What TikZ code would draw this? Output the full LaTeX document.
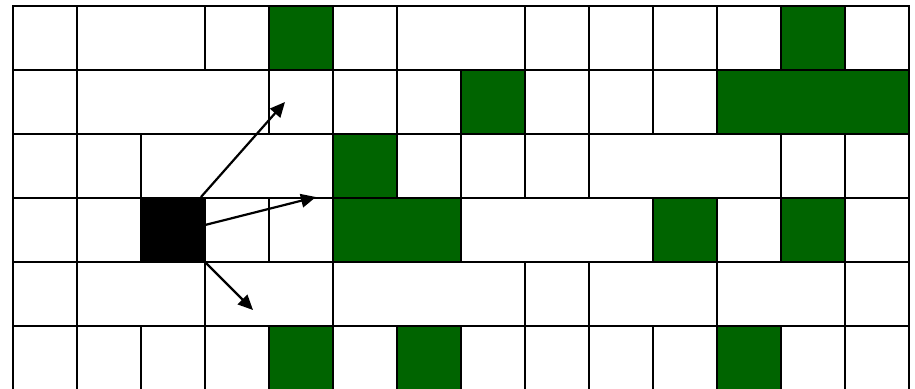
\documentclass[tikz,border=0pt]{standalone}
\usetikzlibrary{arrows.meta}
\definecolor{gr}{RGB}{0,100,0}
\begin{document}
\begin{tikzpicture}[x=1pt,y=-1pt,
  cellbox/.style={draw=black,line width=2.6pt},
  arr/.style={line width=2.2pt,-{Triangle[length=15pt,width=13.5pt]}}]
\useasboundingbox (0,0) rectangle (915,388);
\fill[white] (0,0) rectangle (915,388);
\clip (0,0) rectangle (915,388);
\foreach \r/\a/\b/\c in {
  0/0/1/white,0/1/3/white,0/3/4/white,0/4/5/gr,0/5/6/white,0/6/8/white,0/8/9/white,0/9/10/white,0/10/11/white,0/11/12/white,0/12/13/gr,0/13/14/white,
  1/0/1/white,1/1/4/white,1/4/5/white,1/5/6/white,1/6/7/white,1/7/8/gr,1/8/9/white,1/9/10/white,1/10/11/white,1/11/14/gr,
  2/0/1/white,2/1/2/white,2/2/5/white,2/5/6/gr,2/6/7/white,2/7/8/white,2/8/9/white,2/9/12/white,2/12/13/white,2/13/14/white,
  3/0/1/white,3/1/2/white,3/3/4/white,3/4/5/white,3/5/7/gr,3/7/10/white,3/10/11/gr,3/11/12/white,3/12/13/gr,3/13/14/white,
  4/0/1/white,4/1/3/white,4/3/5/white,4/5/8/white,4/8/9/white,4/9/11/white,4/11/13/white,4/13/14/white,
  5/0/1/white,5/1/2/white,5/2/3/white,5/3/4/white,5/4/5/gr,5/5/6/white,5/6/7/gr,5/7/8/white,5/8/9/white,5/9/10/white,5/10/11/white,5/11/12/gr,5/12/13/white,5/13/14/white}
{
  \filldraw[cellbox,fill=\c] ({13+64*\a},{6+64*\r}) rectangle ({13+64*\b},{6+64*(\r+1)});
}
\node[fill=black,draw=black,line width=2.6pt,minimum size=61.4pt,inner sep=0pt] (blk) at (173,230) {};
\coordinate (t1) at (285,102);
\coordinate (t2) at (316,197);
\coordinate (t3) at (253,310);
\draw[arr] ([xshift=-4pt,yshift=1pt]blk.north east) -- (t1);
\draw[arr] ([yshift=5pt]blk.east) -- (t2);
\draw[arr] (blk.south east) -- (t3);
\end{tikzpicture}
\end{document}
